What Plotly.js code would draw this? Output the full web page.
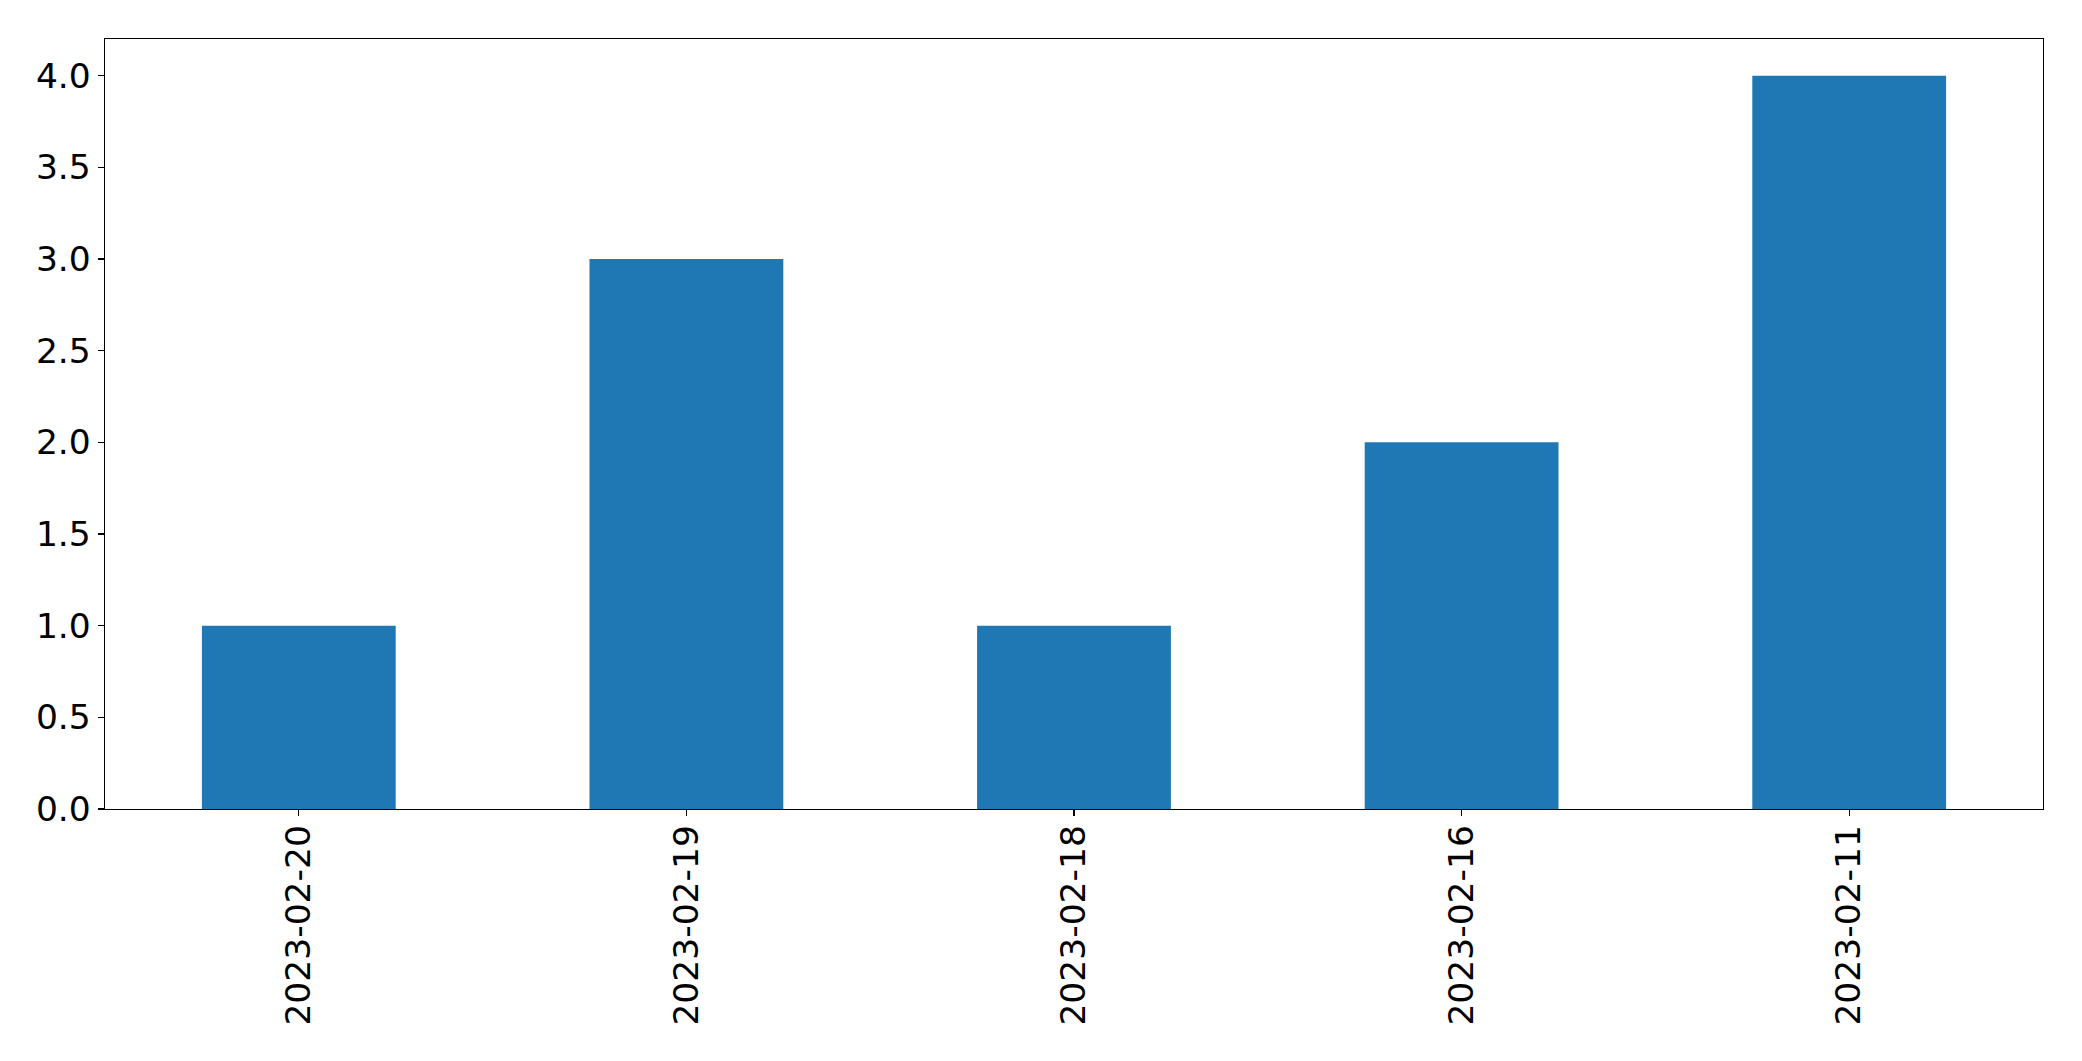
<!DOCTYPE html>
<html>
<head>
<meta charset="utf-8">
<script src="https://cdn.plot.ly/plotly-3.0.1.min.js"></script>
<style>html,body{margin:0;padding:0;background:#fff;}#chart{width:2082px;height:1061px;}</style>
</head>
<body>
<div id="chart"></div>
<script>
const categories = ["2023-02-20", "2023-02-19", "2023-02-18", "2023-02-16", "2023-02-11"];
const counts = [1, 3, 1, 2, 4];
const yTickVals = [0, 0.5, 1, 1.5, 2, 2.5, 3, 3.5, 4];
const yTickText = ["0.0", "0.5", "1.0", "1.5", "2.0", "2.5", "3.0", "3.5", "4.0"];

const font = {family: "DejaVu Sans", size: 34.5, color: "#000"};
Plotly.newPlot("chart", [{
  type: "bar",
  x: categories,
  y: counts,
  marker: {color: "#1f77b4", line: {width: 0}},
  hoverinfo: "x+y"
}], {
  width: 2082, height: 1061,
  margin: {l: 105, r: 39, t: 39, b: 252, pad: 0},
  paper_bgcolor: "#fff", plot_bgcolor: "#fff",
  bargap: 0.5,
  showlegend: false,
  font: font,
  xaxis: {
    type: "category",
    range: [-0.5, 4.5],
    tickangle: -90,
    ticks: "outside", ticklen: 6, tickwidth: 1.3, tickcolor: "#000",
    ticklabelstandoff: -5,
    showline: true, linecolor: "#000", linewidth: 1.3, mirror: true,
    showgrid: false, zeroline: false,
    tickfont: font
  },
  yaxis: {
    range: [0, 4.2],
    tickvals: yTickVals, ticktext: yTickText,
    ticks: "outside", ticklen: 6, tickwidth: 1.3, tickcolor: "#000",
    showline: true, linecolor: "#000", linewidth: 1.3, mirror: true,
    showgrid: false, zeroline: false,
    tickfont: font
  }
}, {displayModeBar: false, staticPlot: true});
</script>
</body>
</html>
